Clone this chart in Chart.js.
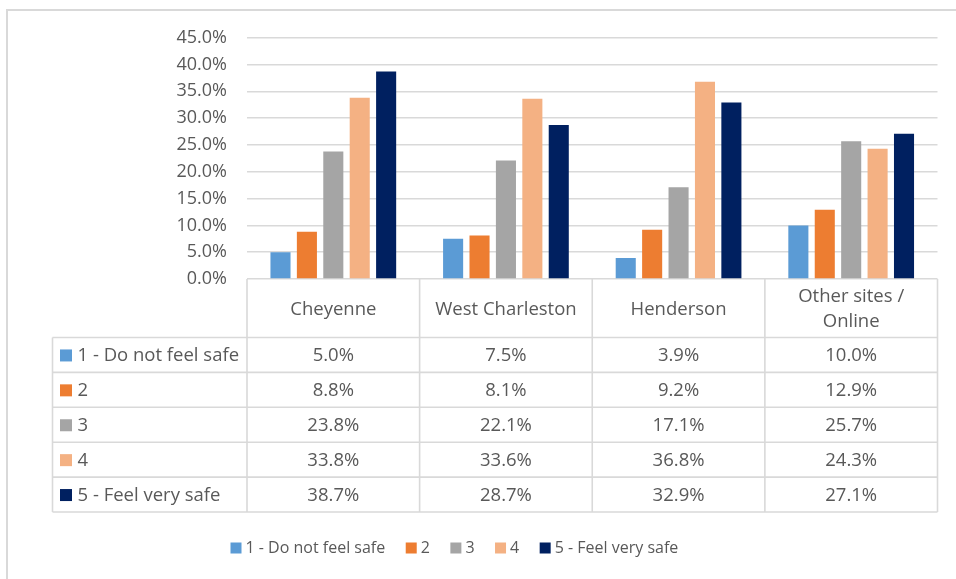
<!DOCTYPE html>
<html>
<head>
<meta charset="utf-8">
<script src="https://cdn.jsdelivr.net/npm/chart.js@4.4.1/dist/chart.umd.min.js"></script>
<style>
  html, body { margin: 0; padding: 0; background: #fff; overflow: hidden; }
  #wrap { position: relative; width: 956px; height: 579px; }
  #frame {
    position: absolute; left: 6px; top: 8.5px; width: 2000px; height: 2000px;
    border-left: 2px solid #d9d9d9; border-top: 2px solid #d9d9d9;
  }
  canvas { position: absolute; left: 0; top: 0; }
</style>
</head>
<body>
<div id="wrap">
  <div id="frame"></div>
  <canvas id="c" width="956" height="579"></canvas>
</div>
<script>
// Campuses (header row of the data table)
const categories = ['Cheyenne', 'West Charleston', 'Henderson', ['Other sites /', 'Online']];

// Response levels
const seriesNames = ['1 - Do not feel safe', '2', '3', '4', '5 - Feel very safe'];
const seriesColors = ['#5b9bd5', '#ed7d31', '#a5a5a5', '#f4b183', '#002060'];

// Percent of respondents per campus
const doNotFeelSafe = [5.0, 7.5, 3.9, 10.0];
const level2 = [8.8, 8.1, 9.2, 12.9];
const level3 = [23.8, 22.1, 17.1, 25.7];
const level4 = [33.8, 33.6, 36.8, 24.3];
const feelVerySafe = [38.7, 28.7, 32.9, 27.1];

// Value axis ticks
const yTicks = [0, 5, 10, 15, 20, 25, 30, 35, 40, 45];

const seriesValues = [doNotFeelSafe, level2, level3, level4, feelVerySafe];
const TEXT = '#595959';
const LINE = '#d9d9d9';
const FONT = '"Open Sans", "Noto Sans", sans-serif';

const fmt = v => v.toFixed(1) + '%';

// Data table under the plot plus the bottom legend
const tablePlugin = {
  id: 'dataTable',
  afterDraw(chart) {
    const ctx = chart.ctx;
    const area = chart.chartArea;
    const xs = chart.scales.x;
    const n = categories.length;
    const colW = (area.right - area.left) / n;
    const tableLeft = 52.5;
    const headerTop = area.bottom;
    const headerH = 58.5;
    const rowH = 34.9;
    const rowsTop = headerTop + headerH;
    const tableBottom = rowsTop + rowH * seriesNames.length;

    ctx.save();
    ctx.strokeStyle = LINE;
    ctx.lineWidth = 1.6;
    ctx.beginPath();
    // header vertical lines
    for (let i = 0; i <= n; i++) {
      const x = area.left + colW * i;
      ctx.moveTo(x, headerTop);
      ctx.lineTo(x, tableBottom);
    }
    // left column edge
    ctx.moveTo(tableLeft, rowsTop);
    ctx.lineTo(tableLeft, tableBottom);
    // row lines
    for (let r = 0; r <= seriesNames.length; r++) {
      const y = rowsTop + rowH * r;
      ctx.moveTo(tableLeft, y);
      ctx.lineTo(area.right, y);
    }
    ctx.stroke();

    ctx.fillStyle = TEXT;
    ctx.font = '18.5px ' + FONT;
    ctx.textAlign = 'center';
    ctx.textBaseline = 'middle';
    // header labels
    categories.forEach((cat, i) => {
      const cx = xs.getPixelForTick(i);
      const lines = Array.isArray(cat) ? cat : [cat];
      const lh = 25;
      const cy = headerTop + headerH / 2 + 1 - (lines.length - 1) * lh / 2;
      lines.forEach((t, k) => ctx.fillText(t, cx, cy + k * lh));
    });
    // value cells and series keys
    seriesNames.forEach((name, r) => {
      const cy = rowsTop + rowH * r + rowH / 2 + 1;
      ctx.fillStyle = seriesColors[r];
      ctx.fillRect(60, cy - 6.5, 12, 12);
      ctx.fillStyle = TEXT;
      ctx.textAlign = 'left';
      ctx.fillText(name, 77.5, cy);
      ctx.textAlign = 'center';
      seriesValues[r].forEach((v, i) => {
        ctx.fillText(fmt(v), xs.getPixelForTick(i), cy);
      });
    });

    // legend
    ctx.font = '16px ' + FONT;
    ctx.textAlign = 'left';
    let lx = 230.5;
    const ly = 548;
    chart.data.datasets.forEach((ds, i) => {
      ctx.fillStyle = ds.backgroundColor;
      ctx.fillRect(lx, ly - 5.5, 11, 11);
      ctx.fillStyle = TEXT;
      ctx.fillText(ds.label, lx + 15, ly);
      lx += 15 + ctx.measureText(ds.label).width + 20.5;
    });
    ctx.restore();
  }
};

new Chart(document.getElementById('c'), {
  type: 'bar',
  data: {
    labels: categories,
    datasets: seriesNames.map((name, i) => ({
      label: name,
      data: seriesValues[i],
      backgroundColor: seriesColors[i],
      borderWidth: 0,
      categoryPercentage: 0.765,
      barPercentage: 0.76
    }))
  },
  options: {
    responsive: false,
    animation: false,
    events: [],
    layout: { padding: { top: 37.7, right: 18.5, bottom: 66, left: 0 } },
    plugins: { legend: { display: false }, tooltip: { enabled: false } },
    scales: {
      x: {
        grid: { display: false },
        border: { display: false },
        ticks: { display: false },
        afterFit(scale) { scale.height = 234; }
      },
      y: {
        min: 0,
        max: 45,
        afterBuildTicks(scale) { scale.ticks = yTicks.map(v => ({ value: v })); },
        ticks: {
          color: TEXT,
          padding: 20,
          font: { family: FONT, size: 18 },
          callback: v => fmt(v)
        },
        grid: { color: LINE, lineWidth: 1.6, drawTicks: false },
        border: { display: false },
        afterFit(scale) { scale.width = 247; }
      }
    }
  },
  plugins: [tablePlugin]
});
</script>
</body>
</html>
